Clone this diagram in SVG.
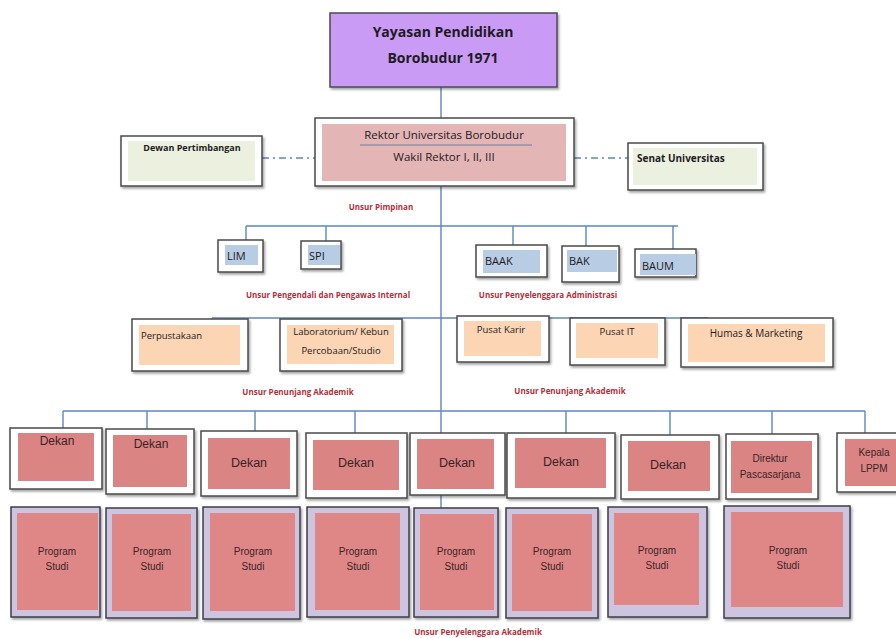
<svg xmlns="http://www.w3.org/2000/svg" width="896" height="638" viewBox="0 0 896 638">
<defs>
<filter id="sh" x="-10%" y="-10%" width="130%" height="130%">
<feDropShadow dx="1.5" dy="2" stdDeviation="1.2" flood-color="#000" flood-opacity="0.35"/>
</filter>
</defs>
<style>
.ln{stroke:#5b87bf;stroke-width:1.4;fill:none}
.dd{stroke:#5b87bf;stroke-width:1.4;fill:none;stroke-dasharray:7 4 2 4}
.ob{fill:#fff;stroke:#4a4a4a;stroke-width:1.5;filter:url(#sh)}
.pb{fill:#cdc4df;stroke:#3c3c4a;stroke-width:1.5;filter:url(#sh)}
.pink{fill:#e3b5b5}
.grn{fill:#ebf1de}
.blu{fill:#b8cce4}
.org{fill:#fcd5b4}
.dk{fill:#db8484}
.ps{fill:#df8787}
.c{font-family:"Open Sans","Liberation Sans",sans-serif;fill:#1e1a24}
.a{font-family:"Liberation Sans",Arial,sans-serif;fill:#3a2326}
.lab{font-family:"Open Sans","Liberation Sans",sans-serif;font-size:8px;font-weight:bold;fill:#b0303c;text-anchor:middle}
</style>

<g id="connectors">
<line class="ln" x1="441" y1="87" x2="441" y2="508"/>
<line class="dd" x1="262" y1="158" x2="315" y2="158"/>
<line class="dd" x1="574" y1="158" x2="628" y2="158"/>
<line class="ln" x1="246" y1="226" x2="678" y2="226"/>
<line class="ln" x1="246" y1="226" x2="246" y2="246"/>
<line class="ln" x1="326" y1="226" x2="326" y2="246"/>
<line class="ln" x1="513" y1="226" x2="513" y2="250"/>
<line class="ln" x1="586" y1="226" x2="586" y2="252"/>
<line class="ln" x1="673" y1="226" x2="673" y2="254"/>
<line class="ln" x1="212" y1="318" x2="708" y2="318"/>
<line class="ln" x1="212" y1="318" x2="212" y2="336"/>
<line class="ln" x1="63" y1="411" x2="865" y2="411"/>
<line class="ln" x1="63" y1="411" x2="63" y2="428"/>
<line class="ln" x1="147" y1="411" x2="147" y2="430"/>
<line class="ln" x1="255" y1="411" x2="255" y2="431"/>
<line class="ln" x1="355" y1="411" x2="355" y2="433"/>
<line class="ln" x1="566" y1="411" x2="566" y2="433"/>
<line class="ln" x1="670" y1="411" x2="670" y2="435"/>
<line class="ln" x1="772" y1="411" x2="772" y2="434"/>
<line class="ln" x1="865" y1="411" x2="865" y2="433"/>
</g>

<g id="yayasan">
<rect x="330" y="13" width="227" height="74" fill="#c99bf5" stroke="#4a4a5a" stroke-width="1.5" filter="url(#sh)"/>
<text class="c" x="443" y="37" font-size="14" font-weight="bold" text-anchor="middle">Yayasan Pendidikan</text>
<text class="c" x="443" y="63" font-size="14" font-weight="bold" text-anchor="middle">Borobudur 1971</text>
</g>

<g id="rektor">
<rect class="ob" x="315" y="118" width="259" height="68" stroke="#4a5a70"/>
<rect class="pink" x="322" y="124" width="244" height="57"/>
<line x1="360" y1="145" x2="532" y2="145" stroke="#6a7fa0" stroke-width="1"/>
<text class="c" x="444" y="139" font-size="11.5" font-weight="500" text-anchor="middle">Rektor Universitas Borobudur</text>
<text class="c" x="444" y="161" font-size="11.5" font-weight="500" text-anchor="middle">Wakil Rektor I, II, III</text>
</g>

<g id="dewan">
<rect class="ob" x="121" y="136" width="141" height="50"/>
<rect class="grn" x="128" y="141" width="127" height="40"/>
<text class="c" x="192" y="151" font-size="9" font-weight="bold" text-anchor="middle">Dewan Pertimbangan</text>
</g>

<g id="senat">
<rect class="ob" x="628" y="143" width="135" height="47"/>
<rect class="grn" x="633" y="148" width="124" height="37"/>
<text class="c" x="637" y="162" font-size="10" font-weight="bold">Senat Universitas</text>
</g>

<text class="lab" x="381" y="210">Unsur Pimpinan</text>

<g id="lim">
<rect class="ob" x="218" y="240" width="45" height="32"/>
<rect class="blu" x="225" y="245" width="33" height="20"/>
<text class="c" x="227" y="260" font-size="11">LIM</text>
</g>
<g id="spi">
<rect class="ob" x="301" y="241" width="40" height="28"/>
<rect class="blu" x="308" y="245" width="32" height="20"/>
<text class="c" x="309" y="260" font-size="11">SPI</text>
</g>
<g id="baak">
<rect class="ob" x="476" y="245" width="71" height="32"/>
<rect class="blu" x="483" y="250" width="57" height="23"/>
<text class="c" x="485" y="265" font-size="11">BAAK</text>
</g>
<g id="bak">
<rect class="ob" x="562" y="246" width="57" height="36"/>
<rect class="blu" x="567" y="250" width="50" height="22"/>
<text class="c" x="569" y="265" font-size="11">BAK</text>
</g>
<g id="baum">
<rect class="ob" x="635" y="249" width="61" height="28"/>
<rect class="blu" x="640" y="254" width="56" height="21"/>
<text class="c" x="642" y="270" font-size="11">BAUM</text>
</g>

<text class="lab" x="328" y="298">Unsur Pengendali dan Pengawas Internal</text>
<text class="lab" x="548" y="298">Unsur Penyelenggara Administrasi</text>

<g id="perpustakaan">
<rect class="ob" x="132" y="319" width="116" height="52"/>
<rect class="org" x="139" y="325" width="101" height="40"/>
<text class="c" x="141" y="339" font-size="9.5">Perpustakaan</text>
</g>
<g id="laboratorium">
<rect class="ob" x="280" y="319" width="122" height="52"/>
<rect class="org" x="287" y="325" width="107" height="39"/>
<text class="c" x="341" y="335" font-size="9.5" text-anchor="middle">Laboratorium/ Kebun</text>
<text class="c" x="341" y="354" font-size="9.5" text-anchor="middle">Percobaan/Studio</text>
</g>
<g id="pusat-karir">
<rect class="ob" x="457" y="316" width="92" height="46"/>
<rect class="org" x="464" y="321" width="77" height="35"/>
<text class="c" x="501" y="333" font-size="9.5" text-anchor="middle">Pusat Karir</text>
</g>
<g id="pusat-it">
<rect class="ob" x="570" y="318" width="95" height="47"/>
<rect class="org" x="576" y="323" width="82" height="35"/>
<text class="c" x="617" y="335" font-size="9.5" text-anchor="middle">Pusat IT</text>
</g>
<g id="humas">
<rect class="ob" x="681" y="318" width="152" height="49"/>
<rect class="org" x="688" y="324" width="137" height="38"/>
<text class="c" x="756" y="337" font-size="10" text-anchor="middle">Humas &amp; Marketing</text>
</g>

<text class="lab" x="298" y="395">Unsur Penunjang Akademik</text>
<text class="lab" x="570" y="394">Unsur Penunjang Akademik</text>

<g id="dekan-1">
<rect class="ob" x="10" y="428" width="92" height="61"/>
<rect class="dk" x="18" y="433" width="76" height="48"/>
<text class="a" x="57" y="445" font-size="12" text-anchor="middle">Dekan</text>
</g>
<g id="dekan-2">
<rect class="ob" x="106" y="429" width="88" height="65"/>
<rect class="dk" x="113" y="435" width="74" height="52"/>
<text class="a" x="151" y="448" font-size="12" text-anchor="middle">Dekan</text>
</g>
<g id="dekan-3">
<rect class="ob" x="201" y="431" width="96" height="65"/>
<rect class="dk" x="208" y="438" width="82" height="51"/>
<text class="a" x="249" y="467" font-size="12.5" text-anchor="middle">Dekan</text>
</g>
<g id="dekan-4">
<rect class="ob" x="306" y="433" width="101" height="65"/>
<rect class="dk" x="313" y="440" width="86" height="50"/>
<text class="a" x="356" y="467" font-size="12.5" text-anchor="middle">Dekan</text>
</g>
<g id="dekan-5">
<rect class="ob" x="410" y="433" width="95" height="62"/>
<rect class="dk" x="417" y="439" width="77" height="50"/>
<text class="a" x="457" y="467" font-size="12.5" text-anchor="middle">Dekan</text>
</g>
<g id="dekan-6">
<rect class="ob" x="507" y="433" width="108" height="65"/>
<rect class="dk" x="515" y="438" width="91" height="50"/>
<text class="a" x="561" y="466" font-size="12.5" text-anchor="middle">Dekan</text>
</g>
<g id="dekan-7">
<rect class="ob" x="621" y="435" width="98" height="64"/>
<rect class="dk" x="628" y="441" width="82" height="50"/>
<text class="a" x="668" y="469" font-size="12.5" text-anchor="middle">Dekan</text>
</g>
<g id="direktur">
<rect class="ob" x="726" y="434" width="92" height="65"/>
<rect class="dk" x="731" y="441" width="81" height="52"/>
<text class="a" x="770" y="462" font-size="10" text-anchor="middle">Direktur</text>
<text class="a" x="770" y="478" font-size="10" text-anchor="middle">Pascasarjana</text>
</g>
<g id="kepala-lppm">
<rect class="ob" x="837" y="433" width="70" height="59"/>
<rect class="dk" x="845" y="439" width="56" height="47"/>
<text class="a" x="874" y="456" font-size="10" text-anchor="middle">Kepala</text>
<text class="a" x="874" y="472" font-size="10" text-anchor="middle">LPPM</text>
</g>

<g id="prodi-1">
<rect class="pb" x="11" y="507" width="89" height="110"/>
<rect class="ps" x="17" y="513" width="81" height="97"/>
<text class="a" x="57" y="555" font-size="10" text-anchor="middle">Program</text>
<text class="a" x="57" y="570" font-size="10" text-anchor="middle">Studi</text>
</g>
<g id="prodi-2">
<rect class="pb" x="106" y="508" width="91" height="110"/>
<rect class="ps" x="112" y="514" width="79" height="97"/>
<text class="a" x="152" y="555" font-size="10" text-anchor="middle">Program</text>
<text class="a" x="152" y="570" font-size="10" text-anchor="middle">Studi</text>
</g>
<g id="prodi-3">
<rect class="pb" x="203" y="507" width="97" height="112"/>
<rect class="ps" x="210" y="513" width="85" height="98"/>
<text class="a" x="253" y="555" font-size="10" text-anchor="middle">Program</text>
<text class="a" x="253" y="570" font-size="10" text-anchor="middle">Studi</text>
</g>
<g id="prodi-4">
<rect class="pb" x="307" y="507" width="102" height="110"/>
<rect class="ps" x="315" y="513" width="85" height="97"/>
<text class="a" x="358" y="555" font-size="10" text-anchor="middle">Program</text>
<text class="a" x="358" y="570" font-size="10" text-anchor="middle">Studi</text>
</g>
<g id="prodi-5">
<rect class="pb" x="414" y="508" width="84" height="109"/>
<rect class="ps" x="420" y="514" width="74" height="96"/>
<text class="a" x="456" y="555" font-size="10" text-anchor="middle">Program</text>
<text class="a" x="456" y="570" font-size="10" text-anchor="middle">Studi</text>
</g>
<g id="prodi-6">
<rect class="pb" x="506" y="508" width="92" height="110"/>
<rect class="ps" x="512" y="514" width="80" height="97"/>
<text class="a" x="552" y="555" font-size="10" text-anchor="middle">Program</text>
<text class="a" x="552" y="570" font-size="10" text-anchor="middle">Studi</text>
</g>
<g id="prodi-7">
<rect class="pb" x="608" y="507" width="99" height="110"/>
<rect class="ps" x="614" y="513" width="85" height="92"/>
<text class="a" x="657" y="554" font-size="10" text-anchor="middle">Program</text>
<text class="a" x="657" y="569" font-size="10" text-anchor="middle">Studi</text>
</g>
<g id="prodi-8">
<rect class="pb" x="724" y="506" width="126" height="112"/>
<rect class="ps" x="731" y="512" width="112" height="95"/>
<text class="a" x="788" y="554" font-size="10" text-anchor="middle">Program</text>
<text class="a" x="788" y="569" font-size="10" text-anchor="middle">Studi</text>
</g>

<text class="lab" x="478" y="635">Unsur Penyelenggara Akademik</text>
</svg>
